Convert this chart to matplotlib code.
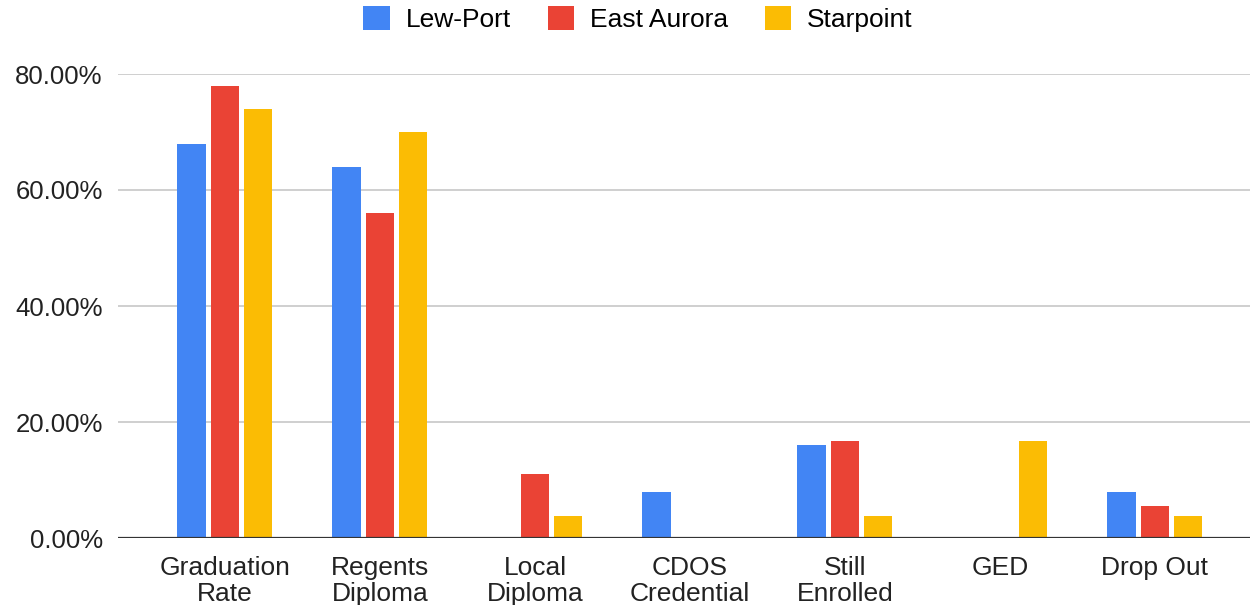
import numpy as np
import matplotlib.pyplot as plt
from matplotlib.ticker import FuncFormatter

plt.rcParams['font.family'] = ['Liberation Sans', 'DejaVu Sans']

# ── Data ─────────────────────────────────────────────────────────────
categories = ['Graduation\nRate', 'Regents\nDiploma', 'Local\nDiploma',
              'CDOS\nCredential', 'Still\nEnrolled', 'GED', 'Drop Out']
lew_port    = [68.0, 64.0, 0.0, 8.0, 16.0, 0.0, 8.0]
east_aurora = [78.0, 56.0, 11.0, 0.0, 16.7, 0.0, 5.6]
starpoint   = [74.0, 70.0, 3.8, 0.0, 3.8, 16.7, 3.8]

series = [('Lew-Port', lew_port, '#4285f4'),
          ('East Aurora', east_aurora, '#ea4335'),
          ('Starpoint', starpoint, '#fbbc04')]

# ── Plot ─────────────────────────────────────────────────────────────
fig = plt.figure(figsize=(12.5, 6.05), dpi=100)
ax = fig.add_axes([118 / 1250, 67 / 605, 1132 / 1250, 464 / 605])

x = np.arange(len(categories))
step = 0.214
width = 0.185
for k, (name, vals, col) in enumerate(series):
    ax.bar(x + (k - 1) * step, vals, width=width, color=col, label=name,
           zorder=3, clip_on=False)

ax.set_ylim(0, 80)
ax.set_xlim(-0.69, 6.613)
ax.set_yticks([0, 20, 40, 60, 80])
ax.yaxis.set_major_formatter(FuncFormatter(lambda v, _: f'{v:.2f}%'))
ax.set_xticks(x)
ax.set_xticklabels(categories, fontsize=19, color='#222222', linespacing=1.12)
ax.tick_params(axis='y', labelsize=18.5, labelcolor='#222222', length=0, pad=11)
ax.tick_params(axis='x', length=0, pad=13)

ax.grid(axis='y', color='#cccccc', lw=1.3, zorder=0)
for s in ['top', 'right', 'left', 'bottom']:
    ax.spines[s].set_visible(False)
ax.axhline(0, color='#333333', lw=1.6, zorder=4)

fig.legend(loc='center', bbox_to_anchor=(638 / 1250, 1 - 19 / 605), ncol=3,
           frameon=False, fontsize=19, handlelength=1.0, handleheight=1.0,
           handletextpad=0.6, columnspacing=1.4)

plt.savefig('out.png', dpi=100)
plt.close(fig)
